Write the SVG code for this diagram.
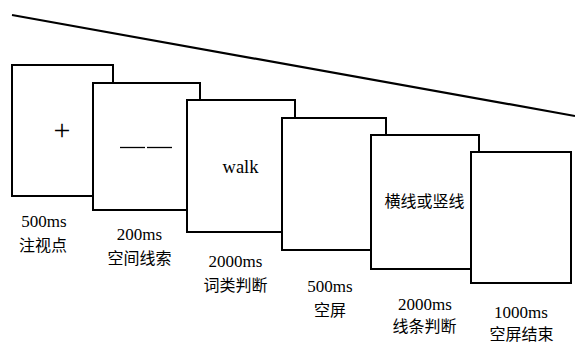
<svg xmlns="http://www.w3.org/2000/svg" width="575" height="345" viewBox="0 0 575 345">
<style>
.box{fill:#fff;stroke:#000;stroke-width:2}
.t{font-family:"Liberation Serif","Noto Sans CJK SC",serif;fill:#000;text-anchor:middle}
.lbl{font-size:17px}
.cjk{font-size:16px;font-family:"Noto Sans CJK SC","Liberation Serif",sans-serif}
</style>
<rect width="575" height="345" fill="#fff"/>
<g id="connectors">
<line x1="12" y1="15" x2="575" y2="116" stroke="#000" stroke-width="2.2"/>
</g>
<g id="n1">
<rect class="box" x="12" y="65" width="101" height="131"/>
<text class="t" x="62" y="140" font-size="30">+</text>
<text class="t lbl" x="44" y="227">500ms</text>
<text class="t cjk" x="43" y="251">注视点</text>
</g>
<g id="n2">
<rect class="box" x="93" y="83" width="107" height="127"/>
<line x1="120" y1="147.5" x2="145" y2="147.5" stroke="#000" stroke-width="1.3"/>
<line x1="147" y1="147.5" x2="172" y2="147.5" stroke="#000" stroke-width="1.3"/>
<text class="t lbl" x="139.5" y="240">200ms</text>
<text class="t cjk" x="139.5" y="264">空间线索</text>
</g>
<g id="n3">
<rect class="box" x="187" y="100" width="108" height="132"/>
<text class="t" x="240.5" y="172.5" font-size="18.5">walk</text>
<text class="t lbl" x="235.5" y="267">2000ms</text>
<text class="t cjk" x="235.5" y="291">词类判断</text>
</g>
<g id="n4">
<rect class="box" x="282" y="118" width="104" height="132"/>
<text class="t lbl" x="330" y="292">500ms</text>
<text class="t cjk" x="330" y="316">空屏</text>
</g>
<g id="n5">
<rect class="box" x="371" y="135" width="108" height="134"/>
<text class="t cjk" x="424.5" y="207" font-size="14.5">横线或竖线</text>
<text class="t lbl" x="425" y="310">2000ms</text>
<text class="t cjk" x="424.5" y="332">线条判断</text>
</g>
<g id="n6">
<rect class="box" x="471" y="152" width="100" height="131"/>
<text class="t lbl" x="521" y="318">1000ms</text>
<text class="t cjk" x="521.5" y="340">空屏结束</text>
</g>
</svg>
